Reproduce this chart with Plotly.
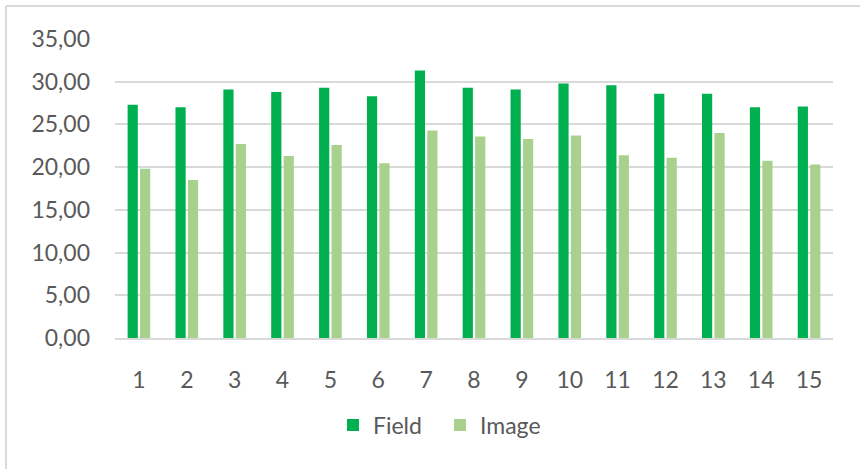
import plotly.graph_objects as go

# Sample index shown on the category axis
categories = [str(i) for i in range(1, 16)]

# Measured values per sample
field_values = [27.3, 27.0, 29.1, 28.8, 29.3, 28.3, 31.3, 29.3, 29.1, 29.8, 29.6, 28.6, 28.6, 27.0, 27.1]
image_values = [19.8, 18.5, 22.7, 21.3, 22.6, 20.45, 24.3, 23.6, 23.3, 23.7, 21.4, 21.1, 24.0, 20.75, 20.3]

y_ticks = [0, 5, 10, 15, 20, 25, 30, 35]

FONT = "Lato"
TEXT_COLOR = "#595959"
GRID_COLOR = "#D9D9D9"

W, H = 860, 469
M_L, M_R, M_T, M_B = 115, 27, 39, 131
plot_w = W - M_L - M_R
plot_h = H - M_T - M_B

fig = go.Figure()
fig.add_trace(go.Bar(x=categories, y=field_values, name="Field",
                     marker=dict(color="#00B050", line=dict(width=0))))
fig.add_trace(go.Bar(x=categories, y=image_values, name="Image",
                     marker=dict(color="#A9D18E", line=dict(width=0))))

# Chart frame: only top and left edges are visible
def px_to_paper_x(px):
    return (px - M_L) / plot_w

def px_to_paper_y(py):
    return (H - M_B - py) / plot_h

frame_style = dict(color=GRID_COLOR, width=2)
fig.add_shape(type="line", xref="paper", yref="paper",
              x0=px_to_paper_x(6), x1=px_to_paper_x(W + 5),
              y0=px_to_paper_y(6), y1=px_to_paper_y(6), line=frame_style)
fig.add_shape(type="line", xref="paper", yref="paper",
              x0=px_to_paper_x(6), x1=px_to_paper_x(6),
              y0=px_to_paper_y(6), y1=px_to_paper_y(H + 5), line=frame_style)

fig.update_layout(
    width=W, height=H,
    margin=dict(l=M_L, r=M_R, t=M_T, b=M_B, pad=0),
    paper_bgcolor="white", plot_bgcolor="white",
    barmode="group", bargap=0.48, bargroupgap=0.18,
    separators=",.",
    font=dict(family=FONT, size=23, color=TEXT_COLOR),
    showlegend=True,
    legend=dict(orientation="h", x=px_to_paper_x(333), xanchor="left",
                y=px_to_paper_y(425), yanchor="middle",
                font=dict(family=FONT, size=23, color=TEXT_COLOR),
                itemwidth=30, traceorder="normal",
                entrywidth=62, entrywidthmode="pixels"),
    xaxis=dict(type="category", showgrid=False, showline=True,
               linecolor=GRID_COLOR, linewidth=2, ticks="",
               ticklabelstandoff=20,
               tickfont=dict(family=FONT, size=23, color=TEXT_COLOR)),
    yaxis=dict(range=[0, 35], tickvals=y_ticks, tickformat=".2f",
               showgrid=True, gridcolor=GRID_COLOR, gridwidth=2,
               zeroline=False, showline=False, ticks="",
               ticklabelstandoff=24,
               tickfont=dict(family=FONT, size=23, color=TEXT_COLOR)),
)

fig.write_html("out.html")
